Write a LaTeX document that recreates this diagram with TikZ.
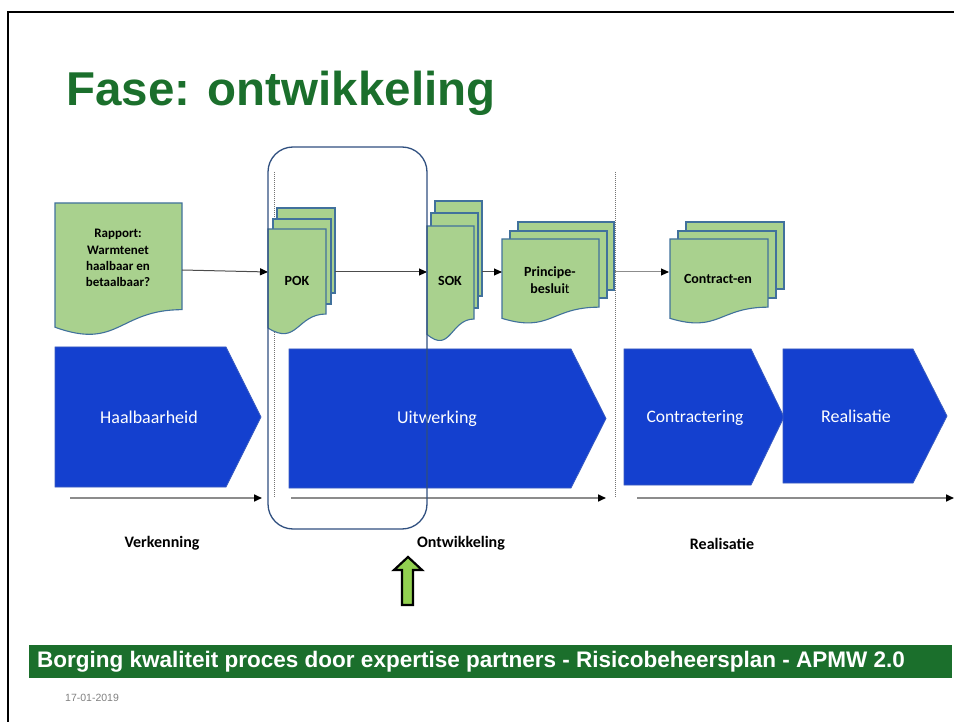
\documentclass[tikz,border=0pt]{standalone}
\usepackage{fontspec}
\setmainfont{Carlito}
\newfontfamily\arialf{Liberation Sans}
\usetikzlibrary{arrows.meta}
\definecolor{docfill}{HTML}{A9D18E}
\definecolor{docline}{HTML}{41719C}
\definecolor{chev}{HTML}{1440CF}
\definecolor{chevline}{HTML}{3A5CC0}
\definecolor{titlegreen}{HTML}{1B6F2C}
\definecolor{frameblue}{HTML}{2F4F7F}
\definecolor{upgreen}{HTML}{92D050}
\definecolor{tlgrey}{HTML}{8C8C8C}
\tikzset{
  doc/.style={fill=docfill, draw=docline, line width=1.1pt},
  chevs/.style={fill=chev, draw=chevline, line width=0.8pt},
  doctext/.style={font=\bfseries\fontsize{14}{16.5}\selectfont, align=center, inner sep=0},
  chevtext/.style={font=\fontsize{18}{20}\selectfont, text=white, inner sep=0},
  phase/.style={font=\bfseries\fontsize{16}{18}\selectfont, inner sep=0},
  docarrow/.style={draw=black!70, line width=1pt, -{Triangle[length=8pt,width=7pt,color=black]}},
  tlarrow/.style={draw=tlgrey, line width=1.6pt, -{Triangle[length=8pt,width=7pt,color=black]}},
  sep/.style={draw=black!55, line width=1pt, densely dotted},
}
\newcommand\mydoc[4]{\path[doc] (#1,#2) -- ({#1+#3},#2) -- ({#1+#3},{#2+0.802*#4}) .. controls ({#1+0.5*#3},{#2+0.802*#4}) and ({#1+0.5*#3},{#2+1.1075*#4}) .. (#1,{#2+0.934*#4}) -- cycle;}
\newcommand\mypage[4]{\path[doc] (#1,#2) rectangle ({#1+#3},{#2+#4});}
\newcommand\mychev[5]{\path[chevs] (#1,#4) -- (#2,#4) -- (#3,{(#4+#5)/2}) -- (#2,#5) -- (#1,#5) -- cycle;}
\begin{document}
\begin{tikzpicture}[x=1pt,y=-1pt]
\useasboundingbox (0,0) rectangle (954,722);
% frame
\draw[line width=2pt] (8,722) -- (8,12) -- (954,12);
% title
\node[anchor=base west, font=\arialf\bfseries\fontsize{47.5}{50}\selectfont, text=titlegreen, inner sep=0] (title) at (66,106) {Fase: ontwikkeling};
% chevrons
\mychev{55}{226}{261}{347}{487}
\mychev{289}{571}{606}{349}{488}
\mychev{624}{751}{784}{349}{485}
\mychev{783}{913}{947}{349}{483}
\node[chevtext] (haal) at (149,417) {Haalbaarheid};
\node[chevtext] (uitw) at (437,419) {Uitwerking};
\node[chevtext, font=\fontsize{17.5}{20}\selectfont] (contr) at (695,418) {Contractering};
\node[chevtext] (real) at (856,416) {Realisatie};
% timelines
\coordinate (t1s) at (70,498); \coordinate (t1e) at (262,498);
\coordinate (t2s) at (291,498); \coordinate (t2e) at (606,498);
\coordinate (t3s) at (637,498); \coordinate (t3e) at (954,498);
\draw[tlarrow] (t1s) -- (t1e);
\draw[tlarrow] (t2s) -- (t2e);
\draw[tlarrow] (t3s) -- (t3e);
% separators
\coordinate (s1a) at (274,172); \coordinate (s1b) at (274,498);
\coordinate (s2a) at (615,172); \coordinate (s2b) at (615,498);
\draw[sep] (s1a) -- (s1b);
\draw[sep] (s2a) -- (s2b);
% documents
\mydoc{55}{203}{127}{133}
\node[doctext, font=\bfseries\fontsize{13}{16.3}\selectfont] (rap) at (118,258) {Rapport:\\Warmtenet\\haalbaar en\\betaalbaar?};
\mypage{277}{208}{58}{85}
\mypage{273}{219}{58}{85}
\mydoc{268}{229}{58}{106}
\node[doctext] (pok) at (297,281) {POK};
\mypage{435}{201}{47}{95}
\mypage{431}{213}{47}{95}
\mydoc{427}{226}{47}{116}
\node[doctext] (sok) at (450,281) {SOK};
\mypage{518}{222}{96}{68}
\mypage{510}{231}{97}{67}
\mydoc{502}{239}{97}{85}
\node[doctext] (princ) at (550,280) {Principe-\\beslui{\mdseries t}};
\mypage{686}{222}{98}{67}
\mypage{678}{231}{98}{67}
\mydoc{670}{239}{98}{85}
\node[doctext] (contract) at (718,279) {Contract-en};
% arrows between documents
\coordinate (rapE) at (182,270); \coordinate (pokW) at (268,272);
\coordinate (pokE) at (335,272); \coordinate (sokW) at (427,272);
\coordinate (sokE) at (482,272); \coordinate (priW) at (502,272);
\coordinate (dotR) at (615,272); \coordinate (conW) at (669,272);
\draw[docarrow] (rapE) -- (pokW);
\draw[docarrow] (pokE) -- (sokW);
\draw[docarrow] (sokE) -- (priW);
\draw[docarrow, draw=tlgrey] (dotR) -- (conW);
% focus frame
\draw[frameblue, line width=1.3pt, rounded corners=25pt] (268,147) rectangle (427,529);
% phase labels
\node[phase] (verk) at (162,543) {Verkenning};
\node[phase] (ontw) at (461,543) {Ontwikkeling};
\node[phase] (reallab) at (722,544) {Realisatie};
% green up arrow
\path[fill=upgreen, draw=black, line width=2.2pt] (408,557) -- (422,570) -- (413,570) -- (413,605) -- (402,605) -- (402,570) -- (394,570) -- cycle;
% footer
\fill[titlegreen] (29,645) rectangle (952,678);
\node[anchor=west, font=\arialf\bfseries\fontsize{22.5}{24}\selectfont, text=white, inner sep=0] (footer) at (37,662) {Borging kwaliteit proces door expertise partners - Risicobeheersplan - APMW 2.0};
\node[anchor=west, font=\arialf\fontsize{10.5}{12}\selectfont, text=black!50, inner sep=0] (date) at (65,698) {17-01-2019};
\end{tikzpicture}
\end{document}
